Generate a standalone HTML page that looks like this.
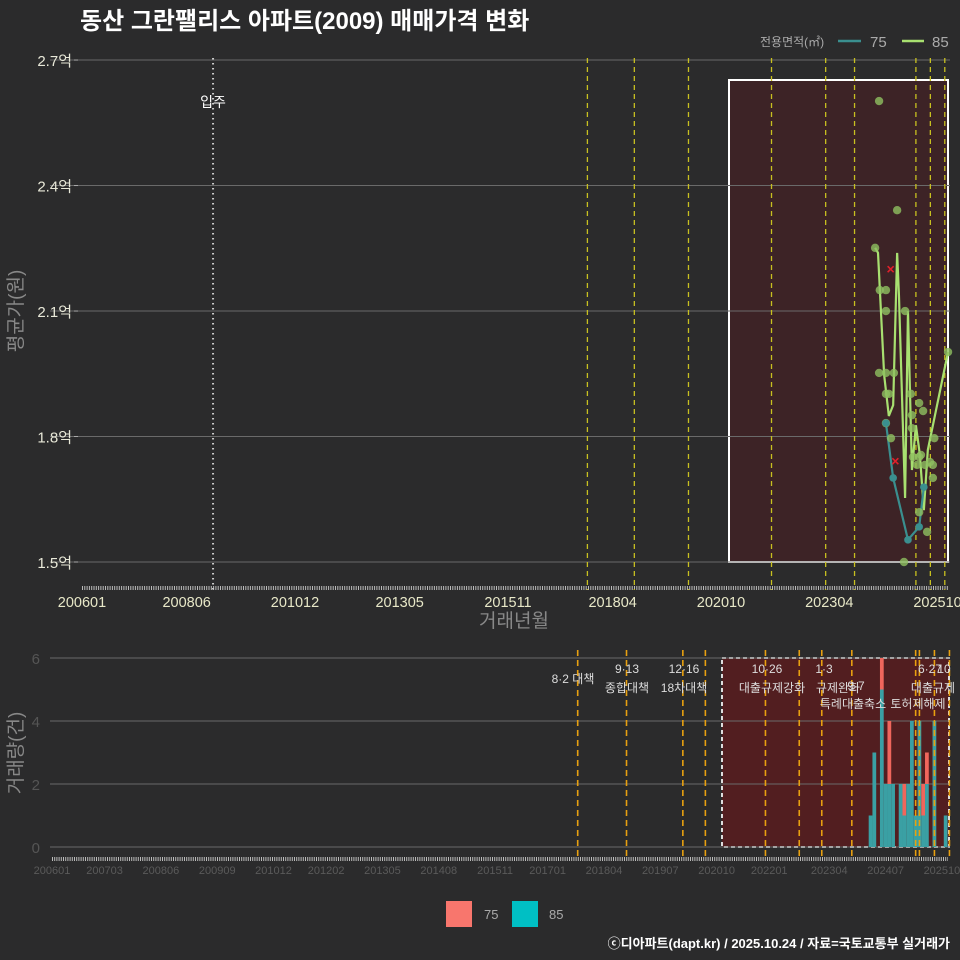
<!DOCTYPE html>
<html><head><meta charset="utf-8"><style>
body{margin:0;background:#2b2b2c;}
svg{display:block;font-family:"Liberation Sans","Noto Sans CJK KR",sans-serif;}
</style></head><body>
<svg id="c" width="960" height="960" viewBox="0 0 960 960">
<rect width="960" height="960" fill="#2b2b2c"/>
<text x="80" y="29" fill="#fff" font-size="24" font-weight="bold">동산 그란팰리스 아파트(2009) 매매가격 변화</text>
<text x="760" y="46" fill="#aaa" font-size="12">전용면적(㎡)</text>
<line x1="838" y1="41" x2="861" y2="41" stroke="#3a8f8f" stroke-width="2.5"/>
<text x="870" y="47" fill="#aaa" font-size="15">75</text>
<line x1="902" y1="41" x2="924" y2="41" stroke="#a8e070" stroke-width="2.5"/>
<text x="932" y="47" fill="#aaa" font-size="15">85</text>
<g id="topg"></g>
<g id="botg"></g>
<rect x="446" y="901" width="26" height="26" fill="#f8766d"/>
<text x="484" y="919" fill="#aaa" font-size="13">75</text>
<rect x="512" y="901" width="26" height="26" fill="#00bfc4"/>
<text x="549" y="919" fill="#aaa" font-size="13">85</text>
<text x="950" y="948" fill="#fff" font-size="13" font-weight="bold" text-anchor="end">ⓒ디아파트(dapt.kr) / 2025.10.24 / 자료=국토교통부 실거래가</text>
</svg>
<script>
// months since 200601
const yTicks = [1.5, 1.8, 2.1, 2.4, 2.7];
const yTickLabels = ['1.5억','1.8억','2.1억','2.4억','2.7억'];
const xTickMonths = [0, 29, 59, 88, 118, 147, 177, 207, 237];
const xTickLabels = ['200601','200806','201012','201305','201511','201804','202010','202304','202510'];
const bxTickMonths = [0,14,29,44,59,73,88,103,118,132,147,162,177,191,207,222,237];
const bxTickLabels = ['200601','200703','200806','200909','201012','201202','201305','201408','201511','201701','201804','201907','202010','202201','202304','202407','202510'];
const policyMonths = [140, 153, 168, 174, 190, 199, 205, 213, 230, 231, 235, 239];
const policyTopMonths = [140, 153, 168, 191, 206, 214, 231, 235, 239];
const line85Months = [219.7,220.5,222.2,223.5,224.7,225.8,226.3,228,228.8,229.9,231,232.1,233.2,234.3,236,239.9];
const line85Values = [2.251,2.239,1.947,1.849,1.875,2.239,2.138,1.653,2.100,1.720,1.827,1.756,1.624,1.768,1.839,2.002];
const pts85Months = [220.8,225.8,219.7,221,222.7,222.7,220.8,222.7,224.9,222.7,223.5,222.7,224.1,228,229.6,229.9,229.9,231.9,230.2,232.4,231.9,233,233.5,231.9,234.1,227.7,235.7,234.9,236.1,235.7,239.9,231.3];
const pts85Values = [2.602,2.341,2.251,2.150,2.150,2.100,1.952,1.952,1.952,1.902,1.902,1.832,1.796,2.100,1.902,1.851,1.820,1.751,1.751,1.756,1.880,1.861,1.732,1.619,1.572,1.500,1.732,1.739,1.796,1.701,2.002,1.732];
const line75Months = [222.7,224.7,228.8,231.9,233.2];
const line75Values = [1.832,1.701,1.553,1.584,1.679];
const xMarksMonths = [224, 225.3];
const xMarksValues = [2.200, 1.741];
const barMonths = [218,219,221,222,223,224,226,227,228,229,230,231,232,233,235,238];
const bar85 = [1,3,5,2,2,2,2,1,2,4,1,4,1,2,4,1];
const bar75 = [0,0,1,0,2,0,0,1,0,0,0,0,1,1,0,0];
const volTicks = [0,2,4,6];
const annot = [['8·2 대책',573,683],['9·13',627,673],['종합대책',627,692],['12·16',684,673],['18차대책',684,692],['10·26',767,673],['대출규제강화',772,692],['1·3',824,673],['규제완화',838,692],['9·7',856,690],['특례대출축소',853,708],['토허제해제',918,708],['6·27',930,673],['대출규제',933,692],['10',944,673]];

const NS='http://www.w3.org/2000/svg';
function mk(p,t,a){const e=document.createElementNS(NS,t);for(const k in a)e.setAttribute(k,a[k]);p.appendChild(e);return e;}
const topG=document.getElementById('topg'), botG=document.getElementById('botg');
const tx=m=>82+m*3.61, ty=v=>562-(v-1.5)*418.3;
const bx=m=>52+m*3.755, by=v=>847-v*31.5;

// top panel
let r=mk(topG,'rect',{x:729,y:80,width:219,height:482,fill:'#3d2326',stroke:'#fff','stroke-width':2});


yTicks.forEach((v,i)=>{
 let g=mk(topG,'line',{x1:50,x2:950,y1:ty(v),y2:ty(v),stroke:'#6a6a6a','stroke-width':1});
 
 
 let t=mk(topG,'text',{x:72,y:ty(v)+6,fill:'#e8e8d8','font-size':15,'text-anchor':'end'});t.textContent=yTickLabels[i];
 
 
 mk(topG,'line',{x1:74,x2:78,y1:ty(v),y2:ty(v),stroke:'#aaa'});
});
let tk=mk(topG,'line',{x1:82,x2:948,y1:588,y2:588,stroke:'#bbb','stroke-width':4,'stroke-dasharray':'1 1.3'});


xTickMonths.forEach((m,i)=>{
 let t=mk(topG,'text',{x:tx(m),y:607,fill:'#e8e8c8','font-size':14.5,'text-anchor':'middle'});t.textContent=xTickLabels[i];
 
 
});
let yt=mk(topG,'text',{x:22,y:311,fill:'#888','font-size':19,'text-anchor':'middle',transform:'rotate(-90 22 311)'});yt.textContent='평균가(원)';


let xt=mk(topG,'text',{x:514,y:627,fill:'#888','font-size':19,'text-anchor':'middle'});xt.textContent='거래년월';


let mv=mk(topG,'line',{x1:tx(36.3),x2:tx(36.3),y1:58,y2:590,stroke:'#ccc','stroke-width':2,'stroke-dasharray':'1.5 3.5'});


let mt=mk(topG,'text',{x:tx(36.3),y:107,fill:'#fff','font-size':14,'text-anchor':'middle'});mt.textContent='입주';


policyTopMonths.forEach(m=>{
 let l=mk(topG,'line',{x1:tx(m),x2:tx(m),y1:58,y2:590,stroke:'#c8c020','stroke-width':1.3,'stroke-dasharray':'5 4'});
 
 
});
function pl(ms,vs,col,name){
 let p=mk(topG,'polyline',{points:ms.map((m,i)=>tx(m)+','+ty(vs[i])).join(' '),fill:'none',stroke:col,'stroke-width':2.2});
 
 
}
pl(line85Months,line85Values,'#a8e070','line-85');
pl(line75Months,line75Values,'#3a8f8f','line-75');
pts85Months.forEach((m,i)=>{
 let c=mk(topG,'circle',{cx:tx(m),cy:ty(pts85Values[i]),r:4.2,fill:'#8fbf60','fill-opacity':0.8});
 
 
});
line75Months.forEach((m,i)=>{
 let c=mk(topG,'circle',{cx:tx(m),cy:ty(line75Values[i]),r:3.8,fill:'#3a8f8f'});
 
 
});
xMarksMonths.forEach((m,i)=>{
 const x=tx(m),y=ty(xMarksValues[i]);
 let p=mk(topG,'path',{d:`M${x-3},${y-3}L${x+3},${y+3}M${x+3},${y-3}L${x-3},${y+3}`,stroke:'#e0202a','stroke-width':1.6});
 
 
});

// bottom panel
let r2=mk(botG,'rect',{x:722,y:658,width:227,height:189,fill:'#521e20',stroke:'#ddd','stroke-width':2,'stroke-dasharray':'4 3'});


volTicks.forEach(v=>{
 let g=mk(botG,'line',{x1:50,x2:950,y1:by(v),y2:by(v),stroke:'#6a6a6a'});
 
 
 let t=mk(botG,'text',{x:40,y:by(v)+6,fill:'#555','font-size':15,'text-anchor':'end'});t.textContent=v;
 
 
});
let tk2=mk(botG,'line',{x1:52,x2:948,y1:859,y2:859,stroke:'#bbb','stroke-width':4,'stroke-dasharray':'1 1.2'});


bxTickMonths.forEach((m,i)=>{
 let t=mk(botG,'text',{x:bx(m),y:874,fill:'#5a5a5a','font-size':11,'text-anchor':'middle'});t.textContent=bxTickLabels[i];
 
 
});
let yt2=mk(botG,'text',{x:22,y:753,fill:'#888','font-size':19,'text-anchor':'middle',transform:'rotate(-90 22 753)'});yt2.textContent='거래량(건)';


barMonths.forEach((m,i)=>{
 const x=bx(m)-1.9,w=3.755;
 let b=mk(botG,'rect',{x:x,y:by(bar85[i]),width:w,height:bar85[i]*31.5,fill:'#3aa0a4'});
 
 
 if(bar75[i]>0){
  let b2=mk(botG,'rect',{x:x,y:by(bar85[i]+bar75[i]),width:w,height:bar75[i]*31.5,fill:'#f0665c'});
  
  
 }
});
policyMonths.forEach(m=>{
 let l=mk(botG,'line',{x1:bx(m),x2:bx(m),y1:650,y2:860,stroke:'#e8a010','stroke-width':1.6,'stroke-dasharray':'6 4'});
 
 
});
annot.forEach(a=>{
 let t=mk(botG,'text',{x:a[1],y:a[2],fill:'#ddd','font-size':12,'text-anchor':'middle'});t.textContent=a[0];
 
 
});
</script>
</body></html>
